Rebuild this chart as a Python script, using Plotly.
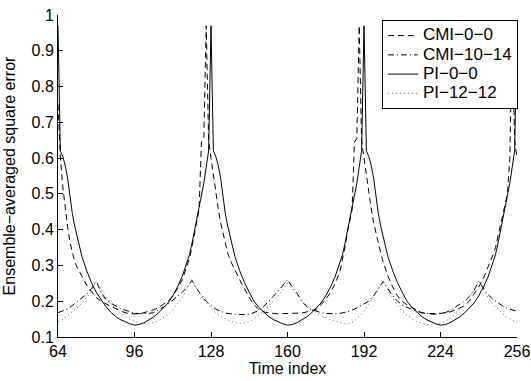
import plotly.graph_objects as go

# ---- data ----
cmi_00_x = [64, 65, 66, 67, 68, 69, 70, 71, 72, 74, 76, 78, 80, 82, 84, 86, 88, 90, 92, 94, 96, 98,
            100, 102, 104, 106, 108, 110, 112, 114, 116, 117, 118, 119, 120, 121, 122, 123, 124, 125, 126,
            127, 128, 129, 130, 131, 132, 133, 134, 135, 136, 138, 140, 142, 144, 146, 148, 150, 152, 154,
            156, 158, 160, 162, 164, 166, 168, 170, 172, 174, 176, 178, 180, 182, 183, 184, 185, 186, 187,
            188, 189, 190,
            191, 192, 193, 194, 195, 196, 197, 198, 199, 200, 202, 204, 206, 208, 210, 212, 214, 216, 218,
            220, 222, 224, 226, 228, 230, 232, 234, 236, 238, 240, 242, 244, 246, 247, 248, 249, 250, 251,
            252, 253, 254, 255, 256]
cmi_00_y = [0.75, 0.60, 0.52, 0.455, 0.41, 0.365, 0.335, 0.31, 0.295, 0.27, 0.245, 0.227, 0.21, 0.2,
            0.192, 0.186, 0.18, 0.173, 0.168, 0.165, 0.164, 0.165, 0.168, 0.171, 0.176, 0.182, 0.19, 0.2,
            0.215, 0.235, 0.26, 0.278, 0.30, 0.32, 0.35, 0.385, 0.42, 0.455, 0.645, 0.655, 0.97,
            0.65, 0.60, 0.55, 0.50, 0.46, 0.42, 0.39, 0.36, 0.335, 0.315, 0.285, 0.26, 0.235, 0.21, 0.19,
            0.177, 0.17, 0.167, 0.166, 0.165, 0.165, 0.165, 0.165, 0.166, 0.167, 0.17, 0.173, 0.177, 0.19,
            0.205, 0.225, 0.25, 0.285, 0.315, 0.35, 0.39, 0.42, 0.455, 0.645, 0.655, 0.97,
            0.65, 0.60, 0.55, 0.50, 0.46, 0.42, 0.39, 0.36, 0.335, 0.31, 0.27, 0.24, 0.215, 0.2, 0.19,
            0.183, 0.175, 0.168, 0.166, 0.165, 0.165, 0.166, 0.167, 0.17, 0.175, 0.18, 0.187, 0.2, 0.22,
            0.24, 0.265, 0.295, 0.33, 0.35, 0.38, 0.41, 0.44, 0.47, 0.50, 0.60, 0.97, 0.65, 0.60]

cmi_1014_x = [64, 66, 68, 70, 72, 74, 76, 78, 80, 82, 84, 86, 88, 90, 92, 94, 96, 98, 100, 102, 104,
              106, 108, 110, 112, 114, 116, 118, 120, 122, 124, 126, 128, 130, 132, 134, 136, 138, 140,
              142, 144, 146, 148, 150, 152, 154, 156, 158, 160, 162, 164, 166, 168, 170, 172, 174, 176,
              178, 180, 182, 184, 186, 188, 190, 192, 194, 196, 198, 200, 202, 204, 206, 208, 210, 212,
              214, 216, 218, 220, 222, 224, 226, 228, 230, 232, 234, 236, 238, 240, 242, 244, 246, 248,
              250, 252, 254, 256]
cmi_1014_y = [0.168, 0.172, 0.178, 0.188, 0.198, 0.208, 0.22, 0.235, 0.255, 0.225, 0.205, 0.195, 0.187,
              0.18, 0.175, 0.17, 0.167, 0.165, 0.165, 0.166, 0.168, 0.175, 0.183, 0.192, 0.203, 0.213,
              0.225, 0.24, 0.258, 0.235, 0.218, 0.2, 0.188, 0.178, 0.172, 0.167, 0.165, 0.163, 0.163,
              0.163, 0.164, 0.168, 0.175, 0.185, 0.198, 0.213, 0.228, 0.243, 0.26, 0.24, 0.222, 0.2,
              0.185, 0.177, 0.172, 0.168, 0.166, 0.165, 0.165, 0.166, 0.168, 0.172, 0.178, 0.186, 0.193,
              0.2, 0.215, 0.235, 0.255, 0.235, 0.215, 0.2, 0.19, 0.183, 0.177, 0.172, 0.168, 0.165, 0.164,
              0.164, 0.165, 0.168, 0.174, 0.182, 0.19, 0.2, 0.213, 0.23, 0.255, 0.235, 0.218, 0.205,
              0.195, 0.187, 0.18, 0.175, 0.172]

pi_00_x = [64, 65, 66, 67, 68, 69, 70, 71, 72, 73, 74, 76, 78, 80, 82, 84, 86, 88, 90, 92, 94, 96, 98,
           100, 102, 104, 106, 108, 110, 112, 114, 116, 118, 119, 120, 121, 122, 123, 124, 125, 126, 127,
           128, 129, 130, 131, 132, 133, 134, 135, 136, 137, 138, 140, 142, 144, 146, 148, 150, 152, 154,
           156, 158, 160, 162, 164, 166, 168, 170, 172, 174, 176, 178, 180, 182, 183, 184, 185, 186, 187,
           188, 189, 190, 191,
           192, 193, 194, 195, 196, 197, 198, 199, 200, 201, 202, 204, 206, 208, 210, 212, 214, 216, 218,
           220, 222, 224, 226, 228, 230, 232, 234, 236, 238, 240, 242, 244, 246, 247, 248, 249, 250, 251,
           252, 253, 254, 255, 256]
pi_00_y = [0.97, 0.62, 0.605, 0.58, 0.545, 0.49, 0.445, 0.41, 0.38, 0.35, 0.325, 0.285, 0.252, 0.225,
           0.203, 0.185, 0.17, 0.158, 0.149, 0.142, 0.137, 0.133, 0.135, 0.14, 0.147, 0.156, 0.167, 0.18,
           0.195, 0.215, 0.24, 0.27, 0.31, 0.33, 0.36, 0.395, 0.43, 0.46, 0.49, 0.53, 0.575, 0.62,
           0.97, 0.62, 0.605, 0.58, 0.545, 0.49, 0.445, 0.41, 0.38, 0.35, 0.325, 0.285, 0.252, 0.225,
           0.2, 0.183, 0.17, 0.158, 0.149, 0.142, 0.137, 0.133, 0.135, 0.14, 0.147, 0.156, 0.167, 0.18,
           0.195, 0.215, 0.24, 0.27, 0.31, 0.33, 0.36, 0.395, 0.43, 0.46, 0.49, 0.53, 0.575, 0.62,
           0.97, 0.62, 0.605, 0.58, 0.545, 0.49, 0.445, 0.41, 0.38, 0.35, 0.325, 0.285, 0.252, 0.225,
           0.2, 0.183, 0.17, 0.158, 0.149, 0.142, 0.137, 0.133, 0.135, 0.14, 0.147, 0.156, 0.167, 0.18,
           0.195, 0.215, 0.24, 0.27, 0.31, 0.33, 0.36, 0.395, 0.43, 0.46, 0.49, 0.53, 0.575, 0.62, 0.97]

pi_1212_x = [64, 66, 68, 70, 72, 74, 76, 78, 80, 82, 84, 86, 88, 90, 92, 94, 96, 98, 100, 102, 104, 106,
             108, 110, 112, 114, 116, 118, 120, 122, 124, 126, 128, 130, 132, 134, 136, 138, 140, 142,
             144, 146, 148, 150, 152, 154, 156, 158, 160, 162, 164, 166, 168, 170, 172, 174, 176, 178,
             180, 182, 184, 186, 188, 190, 192, 194, 196, 198, 200, 202, 204, 206, 208, 210, 212, 214,
             216, 218, 220, 222, 224, 226, 228, 230, 232, 234, 236, 238, 240, 242, 244, 246, 248, 250,
             252, 254, 256]
pi_1212_y = [0.143, 0.15, 0.16, 0.17, 0.182, 0.195, 0.21, 0.23, 0.257, 0.235, 0.21, 0.193, 0.18, 0.168,
             0.158, 0.15, 0.145, 0.14, 0.138, 0.138, 0.14, 0.145, 0.153, 0.163, 0.176, 0.193, 0.212,
             0.235, 0.26, 0.235, 0.212, 0.195, 0.18, 0.168, 0.158, 0.15, 0.144, 0.14, 0.138, 0.14, 0.143,
             0.15, 0.16, 0.172, 0.186, 0.2, 0.215, 0.232, 0.25, 0.232, 0.215, 0.2, 0.188, 0.177, 0.168,
             0.16, 0.153, 0.148, 0.144, 0.14, 0.137, 0.138, 0.145, 0.158, 0.172, 0.193, 0.213, 0.232,
             0.255, 0.23, 0.207, 0.188, 0.172, 0.16, 0.15, 0.143, 0.138, 0.135, 0.134, 0.135, 0.138,
             0.144, 0.152, 0.163, 0.176, 0.192, 0.21, 0.23, 0.255, 0.232, 0.21, 0.192, 0.177, 0.165,
             0.155, 0.147, 0.14]

series_names = ["CMI\u22120\u22120", "CMI\u221210\u221214", "PI\u22120\u22120", "PI\u221212\u221212"]
x_ticks = [64, 96, 128, 160, 192, 224, 256]
y_ticks = [0.1, 0.2, 0.3, 0.4, 0.5, 0.6, 0.7, 0.8, 0.9, 1.0]
y_tick_text = ["0.1", "0.2", "0.3", "0.4", "0.5", "0.6", "0.7", "0.8", "0.9", "1"]

FONT = "Liberation Sans, Arial, Helvetica, sans-serif"


def legend_label(s):
    # larger glyphs while keeping the compact legend row spacing
    return '<span style="font-size:17px">' + s + '</span>'


fig = go.Figure()
fig.add_trace(go.Scatter(x=cmi_00_x, y=cmi_00_y, mode="lines", name=legend_label(series_names[0]),
                         line=dict(color="black", width=1, dash="6px,4px")))
fig.add_trace(go.Scatter(x=cmi_1014_x, y=cmi_1014_y, mode="lines", name=legend_label(series_names[1]),
                         line=dict(color="black", width=1, dash="6px,3px,1px,3px")))
fig.add_trace(go.Scatter(x=pi_00_x, y=pi_00_y, mode="lines", name=legend_label(series_names[2]),
                         line=dict(color="black", width=1)))
fig.add_trace(go.Scatter(x=pi_1212_x, y=pi_1212_y, mode="lines", name=legend_label(series_names[3]),
                         line=dict(color="#666666", width=1, dash="1px,3px")))

fig.update_layout(
    width=531, height=381,
    margin=dict(l=58, r=14, t=15, b=44, autoexpand=False),
    paper_bgcolor="white", plot_bgcolor="white",
    font=dict(family=FONT, size=16, color="black"),
    showlegend=True,
    legend=dict(x=1.002, y=0.9845, xanchor="right", yanchor="top",
                bgcolor="white", bordercolor="black", borderwidth=1,
                font=dict(family=FONT, size=12.5, color="black"),
                tracegroupgap=0, itemwidth=30),
)
fig.update_xaxes(range=[64, 256], tickvals=x_ticks, ticktext=[str(v) for v in x_ticks],
                 showgrid=False, zeroline=False, showline=True, linecolor="black", linewidth=1,
                 ticks="inside", ticklen=5, tickcolor="black", mirror=False, automargin=False,
                 ticklabeloverflow="allow",
                 title=dict(text="Time index", font=dict(size=16), standoff=2),
                 tickfont=dict(size=16))
fig.update_yaxes(range=[0.1, 1.0], tickvals=y_ticks, ticktext=y_tick_text,
                 showgrid=False, zeroline=False, showline=True, linecolor="black", linewidth=1,
                 ticks="inside", ticklen=5, tickcolor="black", mirror=False, automargin=False,
                 ticklabeloverflow="allow",
                 title=dict(text="Ensemble\u2212averaged square error", font=dict(size=16), standoff=11),
                 tickfont=dict(size=16))

# remove the page's default body margin so the 531x381 figure fills the window exactly
fig.write_html("out.html", config={"displayModeBar": False},
               post_script="document.body.style.margin='0';")
